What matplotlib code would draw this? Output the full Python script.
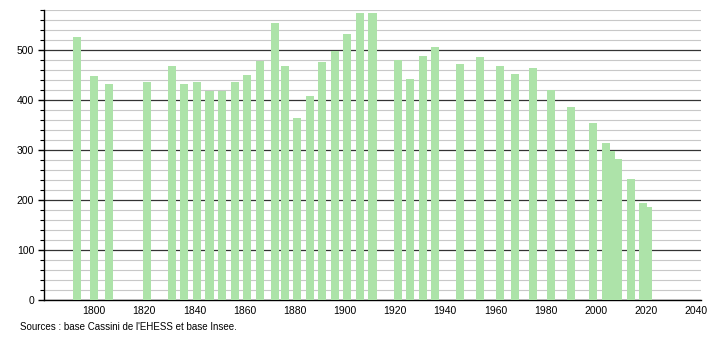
import matplotlib
matplotlib.use('Agg')
import matplotlib.pyplot as plt
from matplotlib.ticker import MultipleLocator

years = [1793, 1800, 1806, 1821, 1831, 1836, 1841, 1846, 1851, 1856,
         1861, 1866, 1872, 1876, 1881, 1886, 1891, 1896, 1901, 1906,
         1911, 1921, 1926, 1931, 1936, 1946, 1954, 1962, 1968, 1975,
         1982, 1990, 1999, 2004, 2006, 2009, 2014, 2019, 2021]
population = [526, 448, 432, 436, 468, 432, 436, 419, 419, 436,
              450, 479, 554, 468, 364, 408, 476, 498, 532, 574,
              574, 480, 442, 488, 506, 472, 486, 468, 452, 464,
              420, 386, 354, 314, 298, 282, 242, 194, 186]
x_ticks = list(range(1800, 2041, 20))
source = "Sources : base Cassini de l'EHESS et base Insee."


def draw_chart():
    plt.rcParams['font.family'] = ['Liberation Sans', 'DejaVu Sans']
    fig = plt.figure(figsize=(7.1, 3.4), dpi=100)
    ax = fig.add_axes([44 / 710, 40 / 340, 657 / 710, 290 / 340])

    ax.bar(years, population, width=3.2, color='#ade3a9', zorder=3)

    ax.set_xlim(1780, 2042)
    ax.set_ylim(0, 580)
    ax.set_xticks(x_ticks)
    ax.yaxis.set_major_locator(MultipleLocator(100))
    ax.yaxis.set_minor_locator(MultipleLocator(20))

    ax.grid(axis='y', which='major', color='#333333', linewidth=0.9, zorder=1)
    ax.grid(axis='y', which='minor', color='#c8c8c8', linewidth=0.8, zorder=0)

    for side in ['top', 'right']:
        ax.spines[side].set_visible(False)
    ax.spines['left'].set_linewidth(1.0)
    ax.spines['bottom'].set_linewidth(1.0)

    ax.tick_params(axis='x', length=0, pad=4, labelsize=7.5)
    ax.tick_params(axis='y', which='major', length=4, width=1, pad=3, labelsize=7.5)
    ax.tick_params(axis='y', which='minor', length=3, width=0.8)

    fig.text(20 / 710, 1 - 327 / 340, source, fontsize=7, va='center', ha='left')

    fig.savefig('out.png', dpi=100)


if __name__ == '__main__':
    draw_chart()
